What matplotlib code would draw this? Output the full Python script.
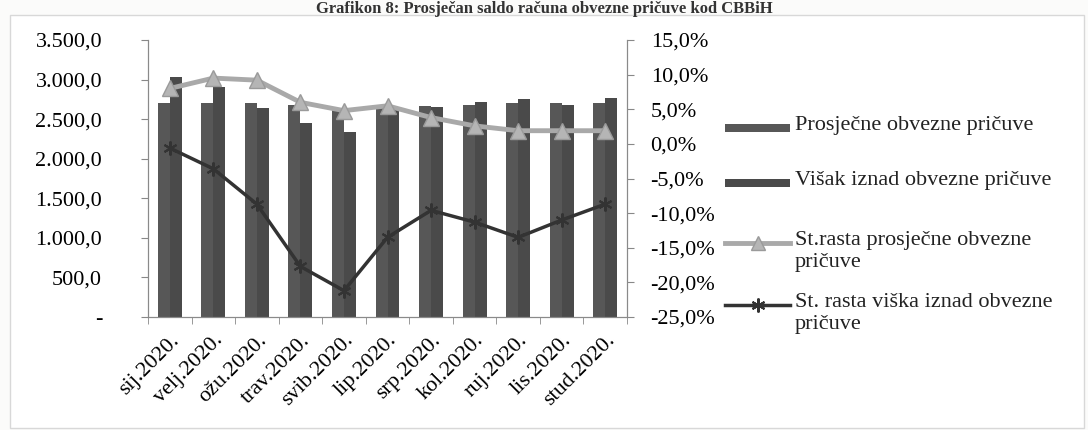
import matplotlib.pyplot as plt
import numpy as np
from matplotlib.lines import Line2D
from matplotlib.patches import Rectangle
from matplotlib.ticker import FuncFormatter

months = ['sij.2020.', 'velj.2020.', 'ožu.2020.', 'trav.2020.', 'svib.2020.', 'lip.2020.',
          'srp.2020.', 'kol.2020.', 'ruj.2020.', 'lis.2020.', 'stud.2020.']
# values (mil. KM)
avg_reserve = [2700, 2708, 2708, 2679, 2615, 2650, 2660, 2679, 2700, 2700, 2700]
excess_reserve = [3029, 2910, 2637, 2447, 2341, 2630, 2650, 2720, 2751, 2679, 2763]
# growth rates in %
growth_avg = [8.0, 9.5, 9.2, 6.0, 4.8, 5.5, 3.8, 2.6, 1.9, 1.9, 1.9]
growth_excess = [-0.6, -3.6, -8.7, -17.7, -21.2, -13.5, -9.6, -11.3, -13.5, -11.0, -8.7]

plt.rcParams['font.family'] = ['Liberation Serif', 'DejaVu Serif']

W, H = 1088, 430
fig = plt.figure(figsize=(W / 100, H / 100), dpi=100)
fig.patch.set_facecolor('#fbfbfa')

# thin frame of the chart area
fig.patches.append(Rectangle((10/W, 0.005), 1 - 14/W, 1 - 15/H - 0.005, transform=fig.transFigure,
                             facecolor='white', edgecolor='#d8d8d8', lw=1, zorder=-1))

ax = fig.add_axes([148/W, 1 - 317/H, (627 - 148)/W, (317 - 40)/H])
ax2 = ax.twinx()

x = np.arange(len(months))
width = 0.275
c_avg, c_exc = '#575757', '#4a4a4a'
c_gavg, c_gexc = '#a9a9a9', '#333333'

ax.bar(x - width/2, avg_reserve, width, color=c_avg)
ax.bar(x + width/2, excess_reserve, width, color=c_exc)

ax2.plot(x, growth_avg, color=c_gavg, lw=3.5, marker='^', markersize=11,
         markerfacecolor='#b5b5b5', markeredgecolor='#9a9a9a', zorder=5)
ax2.plot(x, growth_excess, color=c_gexc, lw=2.5, marker=(6, 2, 0), markersize=10,
         markeredgecolor=c_gexc, markeredgewidth=1.5, zorder=5)

ax.set_xlim(-0.5, len(months) - 0.5)
ax.set_ylim(0, 3500)
ax2.set_ylim(-25, 15)
ax.set_yticks(np.arange(0, 3501, 500))
ax2.set_yticks(np.arange(-25, 16, 5))


def left_fmt(v, pos):
    if v == 0:
        return '-'
    return f'{v:,.1f}'.replace(',', ' ').replace('.', ',').replace(' ', '.')


ax.yaxis.set_major_formatter(FuncFormatter(left_fmt))
ax2.yaxis.set_major_formatter(FuncFormatter(lambda v, p: f'{v:.1f}%'.replace('.', ',')))

ax.set_xticks(x)
ax.set_xticklabels(months, rotation=45, ha='right', rotation_mode='anchor', fontsize=16)
ax.set_xticks(np.arange(-0.5, len(months), 1), minor=True)
ax.tick_params(axis='x', which='major', length=0, pad=10)
ax.tick_params(axis='x', which='minor', length=5, color='#888888')
ax.tick_params(axis='y', labelsize=16, length=5, color='#888888', pad=28)
ax2.tick_params(axis='y', labelsize=16, length=5, color='#888888', pad=12)

for a in (ax, ax2):
    a.spines['top'].set_visible(False)
    for s in ('left', 'right', 'bottom'):
        a.spines[s].set_color('#8a8a8a')
ax.patch.set_alpha(0)
ax2.patch.set_alpha(0)

fig.text(0.5, 0.998, 'Grafikon 8: Prosječan saldo računa obvezne pričuve kod CBBiH',
         ha='center', va='top', fontsize=12, fontweight='bold', color='#333333')

# legend, laid out by hand like the Excel original
hx0, hx1, tx = 725/W, 790/W, 795/W
legend_rows = [
    ('bar', c_avg, 'Prosječne obvezne pričuve', 128),
    ('bar', c_exc, 'Višak iznad obvezne pričuve', 183),
    ('tri', c_gavg, 'St.rasta prosječne obvezne\npričuve', 243),
    ('star', c_gexc, 'St. rasta viška iznad obvezne\npričuve', 305),
]
for kind, col, text, yc in legend_rows:
    y = 1 - yc / H
    if kind == 'bar':
        fig.patches.append(Rectangle((hx0, y - 4/H), hx1 - hx0, 8/H, transform=fig.transFigure,
                                     facecolor=col, edgecolor='none'))
    elif kind == 'tri':
        fig.add_artist(Line2D([hx0, hx1], [y, y], color=col, lw=3.5))
        fig.add_artist(Line2D([(hx0 + hx1)/2], [y], marker='^', markersize=10,
                              markerfacecolor='#b5b5b5', markeredgecolor='#9a9a9a'))
    else:
        fig.add_artist(Line2D([hx0, hx1], [y, y], color=col, lw=2.5))
        fig.add_artist(Line2D([(hx0 + hx1)/2], [y], marker=(6, 2, 0), markersize=10,
                              markeredgecolor=col, markeredgewidth=1.5))
    fig.text(tx, y + 12/H, text, ha='left', va='top', fontsize=16,
             linespacing=1.25, color='#222222')

fig.savefig('out.png', dpi=100)
